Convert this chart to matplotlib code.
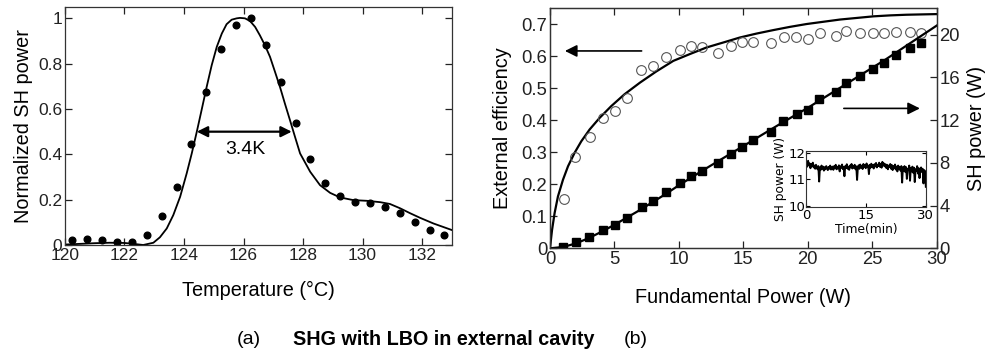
import numpy as np
import matplotlib
matplotlib.use("Agg")
import matplotlib.pyplot as plt

plt.rcParams['font.family'] = ['Liberation Sans', 'DejaVu Sans']

# ---------------- (a) temperature tuning ----------------
temp_meas = [120.25, 120.75, 121.25, 121.75, 122.25, 122.75, 123.25, 123.75, 124.25,
             124.75, 125.25, 125.75, 126.25, 126.75, 127.25, 127.75, 128.25, 128.75,
             129.25, 129.75, 130.25, 130.75, 131.25, 131.75, 132.25, 132.75]
sh_norm_meas = [0.022, 0.025, 0.022, 0.015, 0.015, 0.043, 0.128, 0.257, 0.445,
                0.675, 0.863, 0.969, 1.0, 0.881, 0.717, 0.539, 0.38, 0.275,
                0.216, 0.189, 0.184, 0.169, 0.14, 0.101, 0.066, 0.043]

temp_fit = [120.0, 120.5, 121.0, 121.5, 122.0, 122.3, 122.63, 122.97, 123.19, 123.42,
            123.64, 123.87, 124.09, 124.26, 124.43, 124.59, 124.76, 124.93, 125.10,
            125.27, 125.43, 125.60, 125.77, 125.88, 126.05, 126.22, 126.39, 126.55,
            126.72, 126.89, 127.06, 127.23, 127.39, 127.56, 127.73, 127.90, 128.24,
            128.57, 128.91, 129.24, 129.69, 130.14, 130.59, 130.92, 131.26, 131.60,
            131.93, 132.38, 133.0]
sh_norm_fit = [0.002, 0.005, 0.008, 0.010, 0.009, 0.005, 0.0, 0.010, 0.034, 0.073,
               0.132, 0.213, 0.316, 0.404, 0.5, 0.595, 0.697, 0.793, 0.874,
               0.933, 0.974, 0.994, 1.0, 1.002, 1.0, 0.988, 0.962, 0.925,
               0.881, 0.830, 0.763, 0.695, 0.624, 0.551, 0.477, 0.404, 0.323,
               0.264, 0.230, 0.210, 0.198, 0.195, 0.189, 0.181, 0.162, 0.140,
               0.120, 0.095, 0.066]

fwhm_left, fwhm_right, fwhm_level = 124.43, 127.62, 0.5

# ---------------- (b) power scaling ----------------
pump_sq = [1.03, 1.99, 3.05, 4.09, 5.07, 5.95, 7.11, 8.01, 8.97, 10.09, 10.94, 11.82,
           13.03, 14.07, 14.92, 15.77, 17.13, 18.1, 19.14, 20.04, 20.9, 22.22, 23.0,
           24.08, 25.06, 25.91, 26.84, 27.9, 28.8]
sh_power = [0.15, 0.56, 1.03, 1.72, 2.15, 2.81, 3.9, 4.46, 5.3, 6.15, 6.8, 7.27,
            7.97, 8.87, 9.52, 10.12, 10.92, 11.96, 12.56, 12.96, 13.99, 14.62, 15.46,
            16.15, 16.78, 17.34, 18.12, 18.8, 19.21]

pump_eff = [1.09, 1.94, 3.1, 4.14, 5.04, 5.95, 7.06, 7.97, 8.97, 10.05, 10.94, 11.77,
            13.02, 14.05, 14.9, 15.77, 17.15, 18.15, 19.08, 20.04, 20.95, 22.2, 22.96,
            24.05, 25.03, 25.91, 26.84, 27.93, 28.78]
efficiency = [0.155, 0.284, 0.348, 0.407, 0.428, 0.468, 0.556, 0.570, 0.596, 0.618,
              0.63, 0.627, 0.61, 0.632, 0.643, 0.643, 0.640, 0.661, 0.661, 0.652,
              0.671, 0.663, 0.677, 0.671, 0.671, 0.671, 0.676, 0.676, 0.672]

pump_eff_fit = [0.0, 0.16, 0.36, 0.62, 1.01, 1.40, 1.91, 2.43, 3.08, 3.85, 4.76, 5.79,
                6.98, 8.25, 9.57, 10.9, 12.16, 13.5, 14.74, 16.0, 17.32, 18.6, 19.91,
                21.2, 22.5, 23.8, 25.1, 26.4, 27.65, 28.8, 30.0]
eff_fit = [0.0, 0.057, 0.110, 0.162, 0.214, 0.256, 0.298, 0.334, 0.371, 0.407, 0.444,
           0.481, 0.517, 0.552, 0.585, 0.607, 0.627, 0.643, 0.658, 0.670, 0.681, 0.691,
           0.700, 0.707, 0.714, 0.719, 0.724, 0.727, 0.729, 0.730, 0.731]

pump_pw_fit = [0, 1, 2, 3, 4, 5, 6, 7, 8, 9, 10, 12, 14, 16, 18, 20, 21, 22, 24, 26,
               28, 30]
sh_pw_fit = [0.0, 0.12, 0.45, 0.95, 1.55, 2.2, 2.9, 3.6, 4.35, 5.1, 5.9, 7.4, 8.85,
             10.3, 11.75, 13.15, 13.9, 14.65, 16.15, 17.65, 19.25, 20.85]

# inset: stability trace (SH power, W) over 30 min
inset_power = [11.62, 11.48, 11.70, 11.55, 11.60, 11.42, 11.58, 11.50, 11.63, 11.45,
               11.52, 11.40, 11.55, 11.47, 11.38, 11.50, 10.92, 11.45, 11.36, 11.52,
               11.40, 11.48, 11.33, 11.46, 11.38, 11.50, 11.42, 11.35, 11.47, 11.40,
               11.52, 11.37, 11.44, 11.48, 11.36, 11.50, 11.42, 11.55, 11.38, 11.46,
               11.41, 11.53, 11.30, 11.49, 11.44, 11.56, 11.39, 11.47, 11.12, 11.50,
               11.43, 11.57, 11.40, 11.48, 11.36, 11.52, 11.45, 11.58, 11.41, 11.50,
               11.44, 11.55, 11.38, 11.49, 10.98, 11.46, 11.53, 11.40, 11.56, 11.45,
               11.51, 11.39, 11.58, 11.47, 11.53, 11.42, 11.60, 11.46, 11.52, 11.20,
               11.55, 11.44, 11.59, 11.48, 11.54, 11.41, 11.57, 11.49, 11.62, 11.45,
               11.55, 11.50, 11.63, 11.47, 11.58, 11.44, 11.66, 11.52, 11.60, 11.49,
               11.57, 11.43, 11.55, 11.38, 11.52, 11.46, 11.58, 11.40, 11.54, 11.35,
               11.50, 11.42, 11.56, 11.37, 11.48, 11.30, 11.52, 11.39, 11.47, 11.33,
               11.50, 10.88, 11.45, 11.32, 11.50, 11.28, 11.46, 11.02, 11.40, 11.35,
               11.52, 10.95, 11.43, 11.30, 11.48, 11.25, 11.44, 10.90, 11.38, 11.33,
               11.50, 11.22, 11.42, 11.05, 11.36, 11.45, 11.28, 11.40, 10.85, 11.35,
               11.30, 10.72]
inset_duration = 30.0

# ---------------- figure ----------------
fig = plt.figure(figsize=(9.92, 3.56), dpi=100)

spine_col = '#333333'
tick_fs_a = 12.5
tick_fs_b = 13.3
label_fs = 14.3


def style_axes(ax, fs, right=True, top=True):
    ax.tick_params(direction='in', length=5, width=0.9, top=top, right=right,
                   labelsize=fs, pad=2, colors='#222222')
    for s in ax.spines.values():
        s.set_color(spine_col)
        s.set_linewidth(0.9)


# (a)
axa = fig.add_axes([0.0655, 0.3118, 0.390, 0.6685])
axa.plot(temp_fit, sh_norm_fit, color='black', lw=1.3)
axa.plot(temp_meas, sh_norm_meas, 'o', color='black', ms=4.8)
axa.annotate('', xy=(fwhm_left, fwhm_level), xytext=(fwhm_right, fwhm_level),
             arrowprops=dict(arrowstyle='<|-|>', color='black', lw=1.6,
                             mutation_scale=16, shrinkA=0, shrinkB=0))
axa.text(126.05, 0.42, '3.4K', ha='center', va='center', fontsize=14)
axa.set_xlim(120, 133)
axa.set_ylim(0, 1.05)
axa.set_xticks([120, 122, 124, 126, 128, 130, 132])
axa.set_yticks([0, 0.2, 0.4, 0.6, 0.8, 1.0])
axa.set_yticklabels(['0', '0.2', '0.4', '0.6', '0.8', '1'])
axa.set_xlabel('Temperature (°C)', fontsize=label_fs, labelpad=13)
axa.set_ylabel('Normalized SH power', fontsize=label_fs, labelpad=4)
style_axes(axa, tick_fs_a)

# (b)
axb = fig.add_axes([0.5544, 0.3025, 0.3898, 0.675])
axb.plot(pump_eff_fit, eff_fit, color='black', lw=1.6)
axb.plot(pump_eff, efficiency, 'o', mfc='none', mec='#555555', mew=0.8, ms=7)
axb.set_xlim(0, 30)
axb.set_ylim(0, 0.75)
axb.set_xticks([0, 5, 10, 15, 20, 25, 30])
axb.set_yticks([0, 0.1, 0.2, 0.3, 0.4, 0.5, 0.6, 0.7])
axb.set_yticklabels(['0', '0.1', '0.2', '0.3', '0.4', '0.5', '0.6', '0.7'])
axb.set_xlabel('Fundamental Power (W)', fontsize=label_fs, labelpad=14)
axb.set_ylabel('External efficiency', fontsize=label_fs, labelpad=7)
style_axes(axb, tick_fs_b, right=False)
axb.annotate('', xy=(1.16, 0.616), xytext=(7.11, 0.616),
             arrowprops=dict(arrowstyle='-|>', color='black', lw=1.2,
                             mutation_scale=18, shrinkA=0, shrinkB=0))

axb2 = axb.twinx()
axb2.plot(pump_pw_fit, sh_pw_fit, color='black', lw=1.6)
axb2.plot(pump_sq, sh_power, 's', color='black', ms=6)
axb2.set_ylim(0, 22.5)
axb2.set_yticks([0, 4, 8, 12, 16, 20])
axb2.set_ylabel('SH power (W)', fontsize=label_fs, labelpad=5)
axb2.tick_params(direction='in', length=5, width=0.9, labelsize=tick_fs_b, pad=2,
                 colors='#222222')
for s in axb2.spines.values():
    s.set_color(spine_col)
    s.set_linewidth(0.9)
axb2.annotate('', xy=(28.7, 13.1), xytext=(22.8, 13.1),
              arrowprops=dict(arrowstyle='-|>', color='black', lw=1.2,
                              mutation_scale=18, shrinkA=0, shrinkB=0))

# inset
axi = fig.add_axes([0.813, 0.4177, 0.1203, 0.159])
t_inset = np.linspace(0, inset_duration, len(inset_power))
axi.plot(t_inset, inset_power, color='black', lw=1.4)
axi.set_xlim(0, 30)
axi.set_ylim(9.95, 12.08)
axi.set_xticks([0, 15, 30])
axi.set_yticks([10, 11, 12])
axi.tick_params(direction='in', length=3, width=0.8, top=True, right=True,
                labelsize=9.5, pad=1)
for lab in axi.get_xticklabels() + axi.get_yticklabels():
    lab.set_family('DejaVu Sans')
for s in axi.spines.values():
    s.set_color(spine_col)
    s.set_linewidth(0.8)
axi.set_xlabel('Time(min)', fontsize=8.8, family='DejaVu Sans', labelpad=1)
axi.set_ylabel('SH power (W)', fontsize=8.8, family='DejaVu Sans', labelpad=1)

# caption
fig.text(0.251, 0.045, '(a)', ha='center', va='center', fontsize=14)
fig.text(0.2955, 0.045, 'SHG with LBO in external cavity', ha='left', va='center',
         fontsize=14.2, fontweight='bold')
fig.text(0.641, 0.045, '(b)', ha='center', va='center', fontsize=14)

fig.savefig('out.png', dpi=100)
